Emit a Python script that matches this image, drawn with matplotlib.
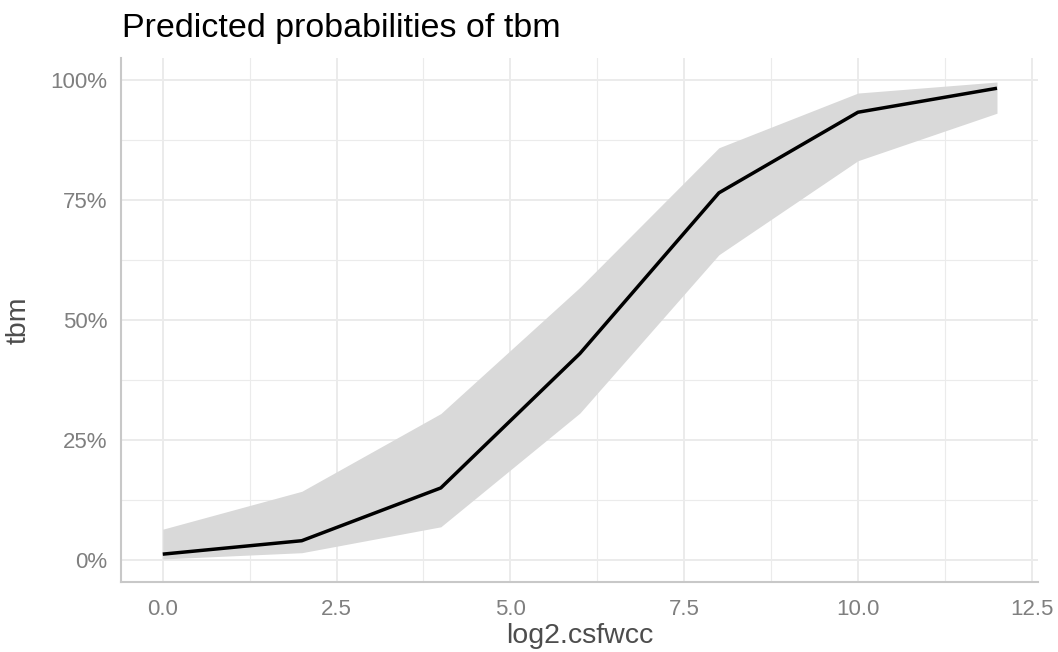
import numpy as np
import matplotlib
matplotlib.use("Agg")
import matplotlib.pyplot as plt
from matplotlib.ticker import FuncFormatter, MultipleLocator

plt.rcParams['font.family'] = ['Liberation Sans', 'DejaVu Sans']

# predicted probabilities
log2_csfwcc = [0, 2, 4, 6, 8, 10, 12]
predicted = [1.2, 4.0, 15.0, 43.0, 76.5, 93.3, 98.3]
conf_low = [0.2, 1.5, 6.9, 30.6, 63.6, 83.2, 93.1]
conf_high = [6.4, 14.3, 30.5, 56.8, 85.9, 97.3, 99.6]

fig = plt.figure(figsize=(10.58, 6.52), dpi=100)
ax = fig.add_axes([0.1144, 0.1074, 0.9811 - 0.1144, 0.911 - 0.1074])

ax.fill_between(log2_csfwcc, conf_low, conf_high, color='#d9d9d9', lw=0, zorder=2)
ax.plot(log2_csfwcc, predicted, color='black', lw=2.5, zorder=3, solid_capstyle='butt')

ax.set_xlim(-0.60, 12.59)
ax.set_ylim(-4.6, 104.6)
ax.xaxis.set_major_locator(MultipleLocator(2.5))
ax.xaxis.set_minor_locator(MultipleLocator(1.25))
ax.yaxis.set_major_locator(MultipleLocator(25))
ax.yaxis.set_minor_locator(MultipleLocator(12.5))
ax.xaxis.set_major_formatter(FuncFormatter(lambda v, p: f"{v:.1f}"))
ax.yaxis.set_major_formatter(FuncFormatter(lambda v, p: f"{v:.0f}%"))

ax.grid(which='major', color='#ebebeb', lw=1.4, zorder=0)
ax.grid(which='minor', color='#ebebeb', lw=0.8, zorder=0)
ax.set_axisbelow(True)
ax.tick_params(which='both', length=0, labelsize=16, labelcolor='#7f7f7f')
ax.tick_params(axis='x', pad=12)
ax.tick_params(axis='y', pad=10)

for s in ['top', 'right']:
    ax.spines[s].set_visible(False)
for s in ['left', 'bottom']:
    ax.spines[s].set_color('#c8c8c8')
    ax.spines[s].set_linewidth(1.5)

ax.set_xlabel('log2.csfwcc', fontsize=20.5, color='#4d4d4d')
ax.xaxis.label.set_va('baseline')
ax.xaxis.set_label_coords(0.5, -0.1164)
ax.set_ylabel('tbm', fontsize=20.5, color='#4d4d4d')
ax.yaxis.label.set_va('center')
ax.yaxis.set_label_coords(-0.1112, 0.5)
fig.text(0.1153, 0.943, 'Predicted probabilities of tbm', fontsize=24.5, color='black', ha='left', va='baseline')

fig.savefig('out.png', dpi=100)
